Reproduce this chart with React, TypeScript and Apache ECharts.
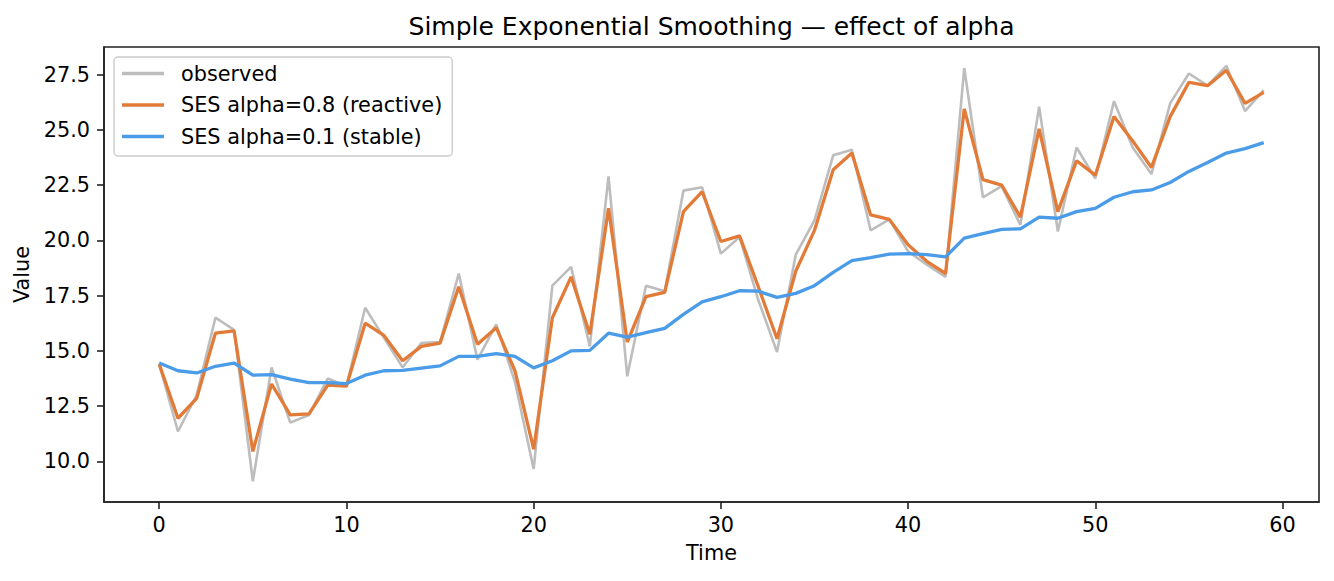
import React, { useEffect, useRef } from "react";
import * as echarts from "echarts";

// Observed series and the two simple exponential smoothing fits (t = 0..59)
const timeSteps: number[] = Array.from({ length: 60 }, (_, i) => i);

const observed: number[] = [
  14.4, 11.35, 13.0, 16.5, 15.95, 9.1, 14.25, 11.75, 12.1, 13.75,
  13.4, 16.95, 15.6, 14.25, 15.35, 15.4, 18.5, 14.6, 16.2, 13.6,
  9.65, 17.95, 18.8, 15.2, 22.9, 13.85, 17.95, 17.7, 22.25, 22.4,
  19.4, 20.15, 17.3, 14.95, 19.35, 20.9, 23.85, 24.1, 20.45, 20.95,
  19.5, 18.9, 18.35, 27.8, 21.95, 22.45, 20.7, 26.05, 20.4, 24.2,
  22.8, 26.3, 24.2, 23.0, 26.2, 27.55, 27.0, 27.9, 25.85, 26.8,
];

const sesFast: number[] = [
  14.4, 11.95, 12.85, 15.8, 15.9, 10.45, 13.5, 12.1, 12.15, 13.45,
  13.4, 16.25, 15.7, 14.55, 15.2, 15.35, 17.9, 15.3, 16.05, 14.1,
  10.55, 16.5, 18.35, 15.75, 21.45, 15.4, 17.45, 17.65, 21.3, 22.2,
  19.95, 20.2, 17.9, 15.55, 18.6, 20.45, 23.2, 23.95, 21.15, 20.95,
  19.8, 19.05, 18.5, 25.95, 22.75, 22.5, 21.05, 25.05, 21.3, 23.6,
  22.95, 25.6, 24.5, 23.3, 25.6, 27.15, 27.0, 27.7, 26.2, 26.7,
];

const sesSlow: number[] = [
  14.45, 14.1, 14.0, 14.3, 14.45, 13.9, 13.92, 13.72, 13.56, 13.56,
  13.52, 13.9, 14.1, 14.12, 14.22, 14.32, 14.75, 14.75, 14.87, 14.75,
  14.23, 14.55, 15.0, 15.02, 15.8, 15.62, 15.82, 16.02, 16.65, 17.22,
  17.45, 17.72, 17.7, 17.42, 17.6, 17.95, 18.55, 19.08, 19.22, 19.38,
  19.4, 19.35, 19.25, 20.1, 20.3, 20.5, 20.52, 21.05, 21.0, 21.3,
  21.45, 21.95, 22.2, 22.28, 22.62, 23.12, 23.52, 23.95, 24.15, 24.42,
];

const xTicks: number[] = [0, 10, 20, 30, 40, 50, 60];
const yTicks: number[] = [10, 12.5, 15, 17.5, 20, 22.5, 25, 27.5];

const seriesNames = {
  observed: "observed",
  fast: "SES alpha=0.8 (reactive)",
  slow: "SES alpha=0.1 (stable)",
};

const titleText = "Simple Exponential Smoothing \u2014 effect of alpha";

const FONT = "'DejaVu Sans', Verdana, sans-serif";
const INK = "#222222";

const pairs = (ys: number[]) => ys.map((v, i) => [timeSteps[i], v]);

export default function App() {
  const ref = useRef<HTMLDivElement>(null);

  useEffect(() => {
    if (!ref.current) return;
    const chart = echarts.init(ref.current, undefined, { renderer: "svg" });

    const gridLeft = 104;
    const gridRight = 15;
    const gridTop = 47;
    const gridBottom = 79;
    const plotCenterX = gridLeft + (1334 - gridLeft - gridRight) / 2;

    chart.setOption({
      animation: false,
      backgroundColor: "#ffffff",
      textStyle: { fontFamily: FONT },
      graphic: [
        {
          type: "text",
          x: plotCenterX,
          y: 26,
          style: {
            text: titleText,
            fill: "#000",
            font: `25px ${FONT}`,
            align: "center",
            verticalAlign: "middle",
          },
        },
      ],
      grid: {
        left: gridLeft,
        right: gridRight,
        top: gridTop,
        bottom: gridBottom,
        show: true,
        borderColor: INK,
        borderWidth: 1.6,
        backgroundColor: "#ffffff",
      },
      legend: {
        orient: "vertical",
        left: 114,
        top: 57,
        padding: [6, 10, 9, 8],
        itemGap: 10.5,
        itemWidth: 42,
        itemHeight: 3.5,
        backgroundColor: "rgba(255,255,255,0.8)",
        borderColor: "#cccccc",
        borderWidth: 1.4,
        borderRadius: 4,
        textStyle: {
          fontFamily: FONT,
          fontSize: 20.8,
          color: "#000",
          lineHeight: 20,
          padding: [0, 0, 0, 12],
        },
        data: [
          { name: seriesNames.observed, icon: "rect" },
          { name: seriesNames.fast, icon: "rect" },
          { name: seriesNames.slow, icon: "rect" },
        ],
      },
      xAxis: {
        type: "value",
        position: "bottom",
        min: -2.95,
        max: 61.95,
        name: "Time",
        nameLocation: "middle",
        nameGap: 40,
        nameTextStyle: { fontFamily: FONT, fontSize: 20.8, color: "#000" },
        axisLine: { show: true, onZero: false, lineStyle: { color: INK, width: 1.6 } },
        splitLine: { show: false },
        axisTick: {
          show: true,
          length: 7,
          lineStyle: { color: INK, width: 1.6 },
          customValues: xTicks,
        },
        axisLabel: {
          fontFamily: FONT,
          fontSize: 20.8,
          color: "#000",
          margin: 12,
          customValues: xTicks,
          formatter: (v: number) => String(v),
        },
      },
      yAxis: {
        type: "value",
        position: "left",
        min: 8.16,
        max: 28.75,
        name: "Value",
        nameLocation: "middle",
        nameGap: 70,
        nameRotate: 90,
        nameTextStyle: { fontFamily: FONT, fontSize: 20.8, color: "#000" },
        axisLine: { show: true, onZero: false, lineStyle: { color: INK, width: 1.6 } },
        splitLine: { show: false },
        axisTick: {
          show: true,
          length: 7,
          lineStyle: { color: INK, width: 1.6 },
          customValues: yTicks,
        },
        axisLabel: {
          fontFamily: FONT,
          fontSize: 20.8,
          color: "#000",
          margin: 14,
          customValues: yTicks,
          formatter: (v: number) => v.toFixed(1),
        },
      },
      series: [
        {
          name: seriesNames.observed,
          type: "line",
          data: pairs(observed),
          showSymbol: false,
          symbol: "none",
          color: "#bdbdbd",
          lineStyle: { color: "#bdbdbd", width: 2.6 },
          z: 2,
        },
        {
          name: seriesNames.fast,
          type: "line",
          data: pairs(sesFast),
          showSymbol: false,
          symbol: "none",
          color: "#e27b38",
          lineStyle: { color: "#e27b38", width: 3.3 },
          z: 3,
        },
        {
          name: seriesNames.slow,
          type: "line",
          data: pairs(sesSlow),
          showSymbol: false,
          symbol: "none",
          color: "#4a9be8",
          lineStyle: { color: "#4a9be8", width: 3.3 },
          z: 4,
        },
      ],
    });

    return () => chart.dispose();
  }, []);

  return (
    <div
      ref={ref}
      style={{ position: "fixed", left: 0, top: 0, width: 1334, height: 581, background: "#fff" }}
    />
  );
}
